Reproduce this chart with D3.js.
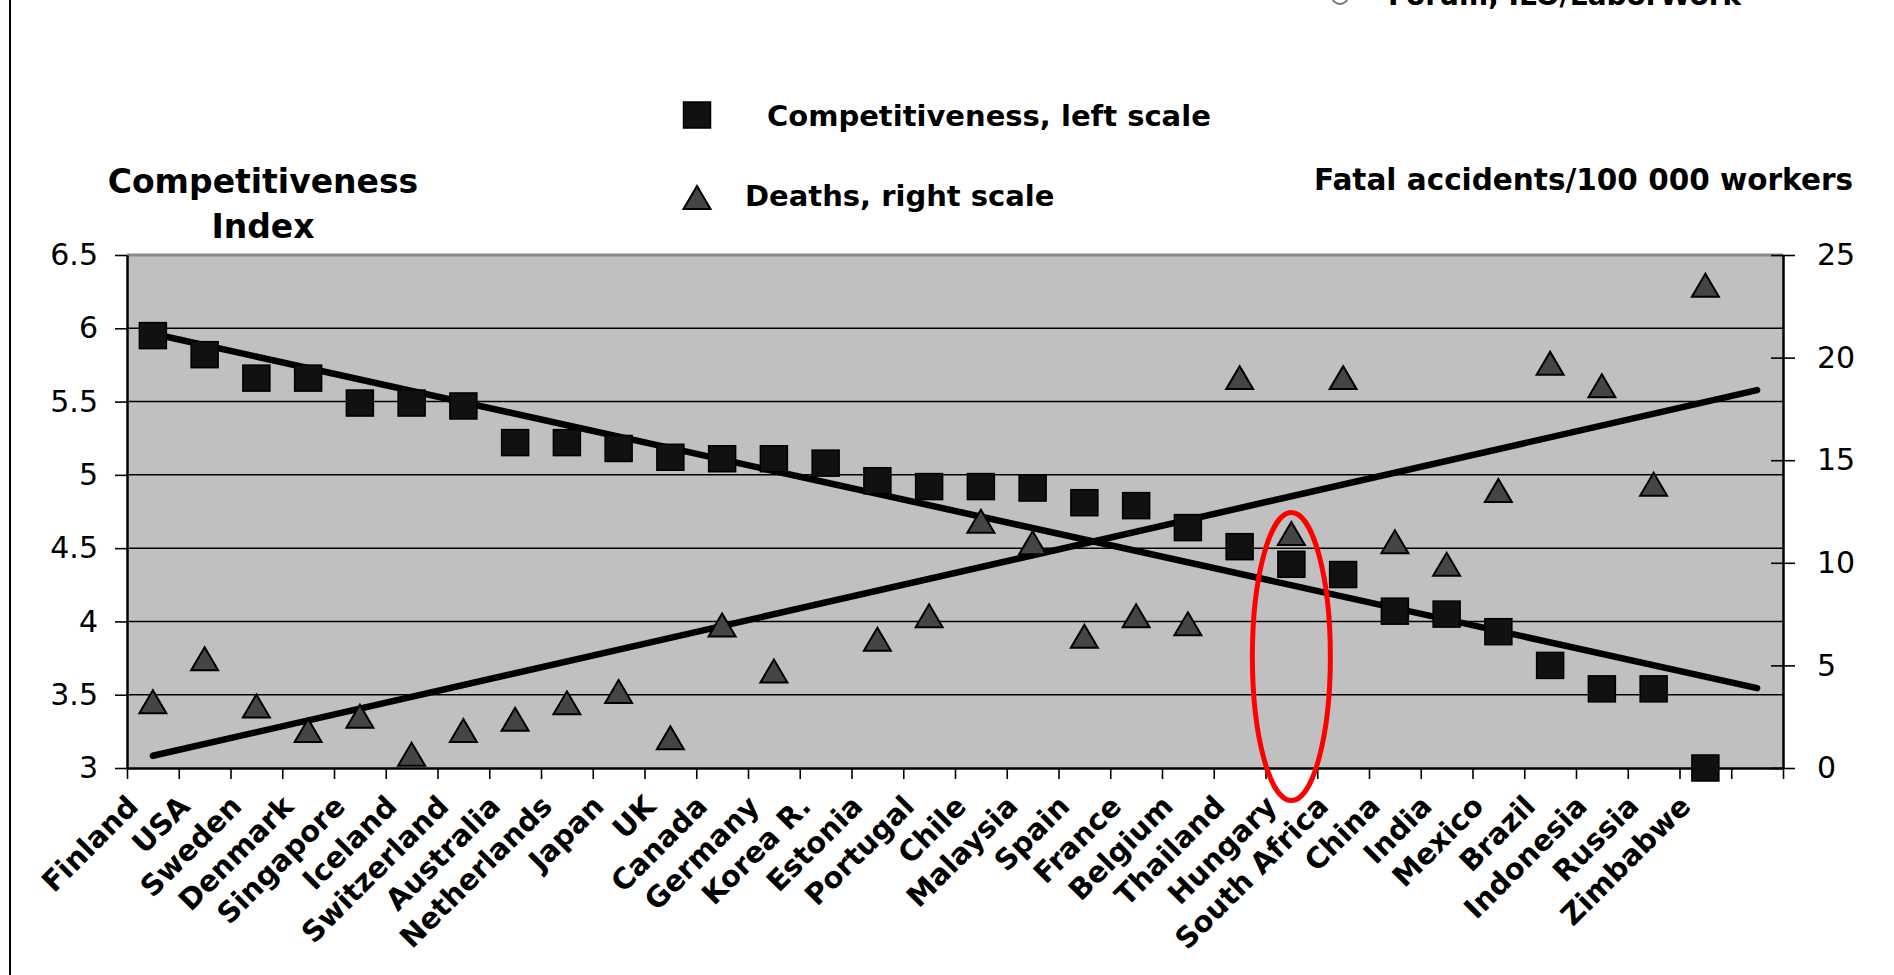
<!DOCTYPE html>
<html>
<head>
<meta charset="utf-8">
<script src="https://cdn.jsdelivr.net/npm/d3@7"></script>
<style>
body { margin: 0; background: #fff; }
text { font-family: "DejaVu Sans", sans-serif; fill: #000; }
</style>
</head>
<body>
<svg id="chart" width="1894" height="975"></svg>
<script>
//---------------------------------------- data ---------------------------------------
var countries = ["Finland", "USA", "Sweden", "Denmark", "Singapore", "Iceland", "Switzerland",
    "Australia", "Netherlands", "Japan", "UK", "Canada", "Germany", "Korea R.", "Estonia",
    "Portugal", "Chile", "Malaysia", "Spain", "France", "Belgium", "Thailand", "Hungary",
    "South Africa", "China", "India", "Mexico", "Brazil", "Indonesia", "Russia", "Zimbabwe"];

// competitiveness index, left scale
var competitiveness = [5.95, 5.82, 5.66, 5.66, 5.49, 5.49, 5.47, 5.22, 5.22, 5.18, 5.12,
    5.11, 5.11, 5.08, 4.96, 4.92, 4.92, 4.91, 4.81, 4.79, 4.64, 4.51, 4.39, 4.32, 4.07,
    4.05, 3.93, 3.70, 3.54, 3.54, 3.00];

// fatal accidents / 100 000 workers, right scale
// Korea R. is above the top of the scale (not drawn), value guessed from the trend line
var deaths = [3.2, 5.3, 3.0, 1.8, 2.5, 0.65, 1.8, 2.35, 3.15, 3.7, 1.45,
    6.95, 4.7, 28.4, 6.25, 7.4, 12.0, 10.95, 6.4, 7.4, 7.0, 19.0, 11.4, 19.0, 11.0,
    9.9, 13.5, 19.7, 18.6, 13.8, 23.5];

var leftTicks = [3, 3.5, 4, 4.5, 5, 5.5, 6, 6.5];
var rightTicks = [0, 5, 10, 15, 20, 25];

//---------------------------------------- scales ---------------------------------------
var svg = d3.select("#chart");
var plotLeft = 127, plotRight = 1783, plotTop = 255, plotBottom = 768;
var nSlots = countries.length + 1;   // one empty slot after Zimbabwe

var x = d3.scaleLinear().domain([-0.5, nSlots - 0.5]).range([plotLeft, plotRight]);
var yL = d3.scaleLinear().domain([3, 6.5]).range([plotBottom, plotTop]);
var yR = d3.scaleLinear().domain([0, 25]).range([plotBottom, plotTop]);

// least squares line over the category index, like the excel trend line
function trend(vals) {
    var pts = vals.map(function(v, i) { return [i, v]; }).filter(function(p) { return p[1] != null; });
    var mx = d3.mean(pts, function(p) { return p[0]; });
    var my = d3.mean(pts, function(p) { return p[1]; });
    var sxy = d3.sum(pts, function(p) { return (p[0] - mx) * (p[1] - my); });
    var sxx = d3.sum(pts, function(p) { return (p[0] - mx) * (p[0] - mx); });
    var b = sxy / sxx;
    return [0, nSlots - 1].map(function(i) { return [i, my + b * (i - mx)]; });
}

// frame line on the left of the picture
svg.append("line").attr("x1", 10).attr("x2", 10).attr("y1", 0).attr("y2", 975)
    .attr("stroke", "#000").attr("stroke-width", 2);

// cut off source line at the very top
svg.append("circle").attr("cx", 1340).attr("cy", -4).attr("r", 8)
    .attr("fill", "none").attr("stroke", "#777").attr("stroke-width", 2);
svg.append("text").attr("x", 1388).attr("y", 5)
    .style("font-size", "28px").style("font-weight", "bold")
    .text("Forum, ILO/LaborWork");

//---------------------------------------- plot area ---------------------------------------
// clip only the top, markers may sit over the bottom axis
svg.append("defs").append("clipPath").attr("id", "plotclip")
    .append("rect").attr("x", plotLeft - 30).attr("y", plotTop)
    .attr("width", plotRight - plotLeft + 60).attr("height", plotBottom - plotTop + 30);

svg.append("rect")
    .attr("x", plotLeft).attr("y", plotTop)
    .attr("width", plotRight - plotLeft).attr("height", plotBottom - plotTop)
    .attr("fill", "#c0c0c0");

svg.append("line").attr("x1", plotLeft).attr("x2", plotRight)
    .attr("y1", plotTop).attr("y2", plotTop)
    .attr("stroke", "#8a8a8a").attr("stroke-width", 3);

svg.append("g").selectAll("line")
    .data(leftTicks.filter(function(d) { return d > 3 && d < 6.5; }))
    .enter().append("line")
    .attr("x1", plotLeft).attr("x2", plotRight)
    .attr("y1", function(d) { return yL(d); })
    .attr("y2", function(d) { return yL(d); })
    .attr("stroke", "#000").attr("stroke-width", 1.5);

//---------------------------------------- axes ---------------------------------------
var axisLeft = svg.append("g")
    .attr("transform", "translate(" + plotLeft + ",0)")
    .call(d3.axisLeft(yL).tickValues(leftTicks).tickFormat(d3.format("")).tickSize(12).tickSizeOuter(0).tickPadding(17));

var axisRight = svg.append("g")
    .attr("transform", "translate(" + plotRight + ",0)")
    .call(d3.axisRight(yR).tickValues(rightTicks).tickSize(12).tickSizeOuter(0).tickPadding(22));
axisRight.selectAll(".tick line").attr("x1", -12);

var axisBottom = svg.append("g")
    .attr("transform", "translate(0," + plotBottom + ")")
    .call(d3.axisBottom(x).tickValues(d3.range(-0.5, nSlots, 1)).tickFormat("").tickSize(11).tickSizeOuter(0));

[axisLeft, axisRight, axisBottom].forEach(function(a) {
    a.select(".domain").attr("stroke", "#000").attr("stroke-width", 2.5);
    a.selectAll(".tick line").attr("stroke", "#000").attr("stroke-width", 1.6);
    a.selectAll(".tick text").style("font-size", "30px").style("font-family", "'DejaVu Sans', sans-serif").attr("fill", "#000");
});

svg.append("g").selectAll("text")
    .data(countries)
    .enter().append("text")
    .attr("transform", function(d, i) { return "translate(" + (x(i) - 13) + "," + (plotBottom + 40) + ") rotate(-45)"; })
    .style("text-anchor", "end")
    .style("font-size", "29px")
    .style("font-weight", "bold")
    .text(function(d) { return d; });

//---------------------------------------- trend lines and markers ---------------------------------------
var marks = svg.append("g").attr("clip-path", "url(#plotclip)");

var lineL = d3.line().x(function(d) { return x(d[0]); }).y(function(d) { return yL(d[1]); });
var lineR = d3.line().x(function(d) { return x(d[0]); }).y(function(d) { return yR(d[1]); });

marks.append("path").attr("d", lineL(trend(competitiveness)))
    .attr("stroke", "#000").attr("stroke-width", 6.5).attr("stroke-linecap", "round").attr("fill", "none");
marks.append("path").attr("d", lineR(trend(deaths)))
    .attr("stroke", "#000").attr("stroke-width", 6.5).attr("stroke-linecap", "round").attr("fill", "none");

var triangle = "M0,-12L13.5,11L-13.5,11Z";

marks.selectAll(".tri")
    .data(deaths)
    .enter().append("path")
    .attr("class", "tri")
    .attr("d", triangle)
    .attr("transform", function(d, i) { return "translate(" + x(i) + "," + yR(d) + ")"; })
    .attr("fill", "#454545").attr("stroke", "#000").attr("stroke-width", 2);

marks.selectAll(".sq")
    .data(competitiveness)
    .enter().append("rect")
    .attr("class", "sq")
    .attr("x", function(d, i) { return x(i) - 13.5; })
    .attr("y", function(d) { return yL(d) - 13; })
    .attr("width", 27).attr("height", 26)
    .attr("fill", "#111").attr("stroke", "#000").attr("stroke-width", 1.5);

// red ring round Hungary
var hu = countries.indexOf("Hungary");
svg.append("ellipse")
    .attr("cx", x(hu)).attr("cy", yL(3.76))
    .attr("rx", 39).attr("ry", 144)
    .attr("fill", "none").attr("stroke", "#ff0000").attr("stroke-width", 5);

//---------------------------------------- titles and legend ---------------------------------------
svg.append("text").attr("x", 263).attr("y", 193)
    .style("text-anchor", "middle").style("font-size", "33px").style("font-weight", "bold")
    .text("Competitiveness");
svg.append("text").attr("x", 263).attr("y", 238)
    .style("text-anchor", "middle").style("font-size", "33px").style("font-weight", "bold")
    .text("Index");

svg.append("text").attr("x", 1853).attr("y", 190)
    .style("text-anchor", "end").style("font-size", "29.5px").style("font-weight", "bold")
    .text("Fatal accidents/100 000 workers");

svg.append("rect").attr("x", 697 - 13.5).attr("y", 115 - 13).attr("width", 27).attr("height", 26)
    .attr("fill", "#111").attr("stroke", "#000").attr("stroke-width", 1.5);
svg.append("text").attr("x", 767).attr("y", 126)
    .style("font-size", "29px").style("font-weight", "bold")
    .text("Competitiveness, left scale");

svg.append("path").attr("d", triangle).attr("transform", "translate(697,198)")
    .attr("fill", "#454545").attr("stroke", "#000").attr("stroke-width", 2);
svg.append("text").attr("x", 745).attr("y", 206)
    .style("font-size", "29px").style("font-weight", "bold")
    .text("Deaths, right scale");
</script>
</body>
</html>
